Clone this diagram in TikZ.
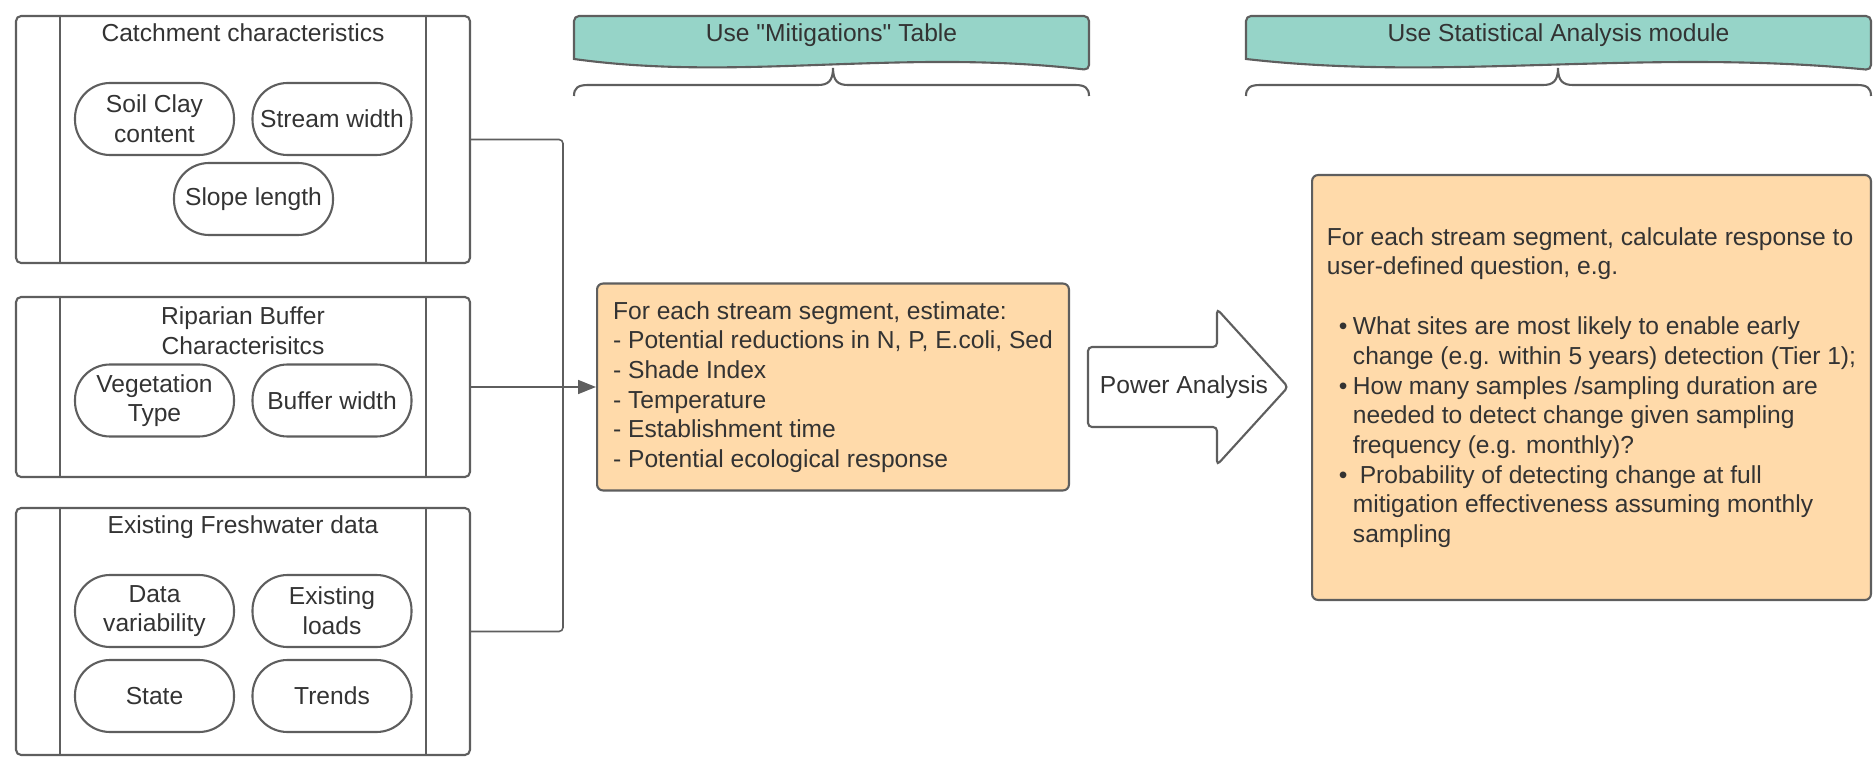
\documentclass[tikz,border=0pt]{standalone}
\usepackage{fontspec}
\setmainfont{Liberation Sans}
\usepackage{tikz}
\usetikzlibrary{arrows.meta}

\definecolor{linegray}{RGB}{94,94,94}
\definecolor{textgray}{RGB}{51,51,51}
\definecolor{bannerteal}{RGB}{150,212,200}
\definecolor{notepeach}{RGB}{255,218,170}

\tikzset{
  panel/.style={draw=linegray, line width=1.2pt, rounded corners=0.1cm, minimum width=9.08cm},
  pill/.style={draw=linegray, line width=1.2pt, rounded corners=0.7cm, minimum width=3.18cm,
    minimum height=1.44cm, align=center, inner sep=1pt},
  note/.style={draw=linegray, line width=1.2pt, fill=notepeach, rounded corners=0.12cm, align=left},
  conn/.style={draw=linegray, line width=0.9pt, rounded corners=0.08cm},
  banner/.style={draw=linegray, line width=1.2pt, fill=bannerteal},
  brace/.style={draw=linegray, line width=1.2pt},
  bigarrow/.style={draw=linegray, line width=1.2pt, fill=white, rounded corners=0.08cm},
}

\newcommand{\qbullet}{\makebox[0.52cm][l]{\hspace*{0.24cm}\textbullet}}
\newcommand{\qindent}{\hspace*{0.52cm}}

\begin{document}
\begin{tikzpicture}[x=0.02cm, y=-0.02cm, font=\fontsize{14pt}{16.9pt}\selectfont, text=textgray]

	\useasboundingbox (0,0) rectangle (1876,763);

	% input panels
	\node[panel, minimum height=4.94cm] (catch) at (243,139.5) {};
	\node[panel, minimum height=3.6cm] (ripar) at (243,387) {};
	\node[panel, minimum height=4.94cm] (fresh) at (243,631.5) {};

	\draw[linegray, line width=1.2pt] ([xshift=0.9cm]catch.north west) -- ([xshift=0.9cm]catch.south west);
	\draw[linegray, line width=1.2pt] ([xshift=-0.9cm]catch.north east) -- ([xshift=-0.9cm]catch.south east);
	\draw[linegray, line width=1.2pt] ([xshift=0.9cm]ripar.north west) -- ([xshift=0.9cm]ripar.south west);
	\draw[linegray, line width=1.2pt] ([xshift=-0.9cm]ripar.north east) -- ([xshift=-0.9cm]ripar.south east);
	\draw[linegray, line width=1.2pt] ([xshift=0.9cm]fresh.north west) -- ([xshift=0.9cm]fresh.south west);
	\draw[linegray, line width=1.2pt] ([xshift=-0.9cm]fresh.north east) -- ([xshift=-0.9cm]fresh.south east);

	\node (catchtitle) at (243,33) {Catchment characteristics};
	\node[align=center] (ripartitle) at (243,330.5) {Riparian Buffer\\Characterisitcs};
	\node (freshtitle) at (243,527) {Existing Freshwater data};

	\node[pill] (soil) at (154.5,119) {Soil Clay\\content};
	\node[pill] (streamw) at (332,119) {Stream width};
	\node[pill] (slope) at (253.5,199) {Slope length};

	\node[pill] (veg) at (154.5,400.5) {Vegetation\\Type};
	\node[pill] (bufw) at (332,400.5) {Buffer width};

	\node[pill] (datavar) at (154.5,611) {Data\\variability};
	\node[pill] (loads) at (332,611) {Existing\\loads};
	\node[pill] (state) at (154.5,696) {State};
	\node[pill] (trends) at (332,696) {Trends};

	% mitigation estimate
	\node[note, minimum width=9.44cm, minimum height=4.14cm] (mitig) at (833,387) {For each stream segment, estimate:\\
		- Potential reductions in N, P, E.coli, Sed\\
		- Shade Index\\
		- Temperature\\
		- Establishment time\\
		- Potential ecological response};

	\coordinate (jn) at (563,387);
	\draw[conn] (catch.east) -| (jn);
	\draw[conn] (fresh.east) -| (jn);
	\draw[conn, -{Triangle[length=0.36cm, width=0.28cm]}, fill=linegray] (ripar.east) -- (mitig.west);

	% power analysis
	\draw[bigarrow] (1088,347) -- (1217,347) -- (1217,309) -- (1288,387) -- (1217,465) -- (1217,427) -- (1088,427) -- cycle;
	\node (power) at (1184,387) {Power Analysis};

	\node[note, minimum width=11.18cm, minimum height=8.5cm] (stats) at (1591.5,387.5) {For each stream segment, calculate response to\\
		user-defined question, e.g.\\[0.6cm]
		\qbullet What sites are most likely to enable early\\
		\qindent change (e.g. within 5 years) detection (Tier 1);\\
		\qbullet How many samples /sampling duration are\\
		\qindent needed to detect change given sampling\\
		\qindent frequency (e.g. monthly)?\\
		\qbullet\ Probability of detecting change at full\\
		\qindent mitigation effectiveness assuming monthly\\
		\qindent sampling};

	% banners and braces
	\draw[banner] (574,59) [rounded corners=0.1cm] -- (574,16) -- (1089,16) -- (1089,70) [sharp corners] .. controls (900,48) and (740,82) .. (574,59) -- cycle;
	\node (mitigtab) at (831.5,35) {Use \textquotedbl Mitigations\textquotedbl\ Table};
	\draw[brace] (574,96) .. controls (574,88) and (578,85) .. (588,85) -- (818,85) .. controls (828,85) and (833,81) .. (833,68)
		.. controls (833,81) and (838,85) .. (848,85) -- (1075,85) .. controls (1085,85) and (1089,88) .. (1089,96);

	\draw[banner] (1246,59) [rounded corners=0.1cm] -- (1246,16) -- (1871,16) -- (1871,70) [sharp corners] .. controls (1642,48) and (1447,82) .. (1246,59) -- cycle;
	\node (statstab) at (1558.5,35) {Use Statistical Analysis module};
	\draw[brace] (1246,96) .. controls (1246,88) and (1250,85) .. (1260,85) -- (1543,85) .. controls (1553,85) and (1558,81) .. (1558,68)
		.. controls (1558,81) and (1563,85) .. (1573,85) -- (1857,85) .. controls (1867,85) and (1871,88) .. (1871,96);

\end{tikzpicture}
\end{document}
